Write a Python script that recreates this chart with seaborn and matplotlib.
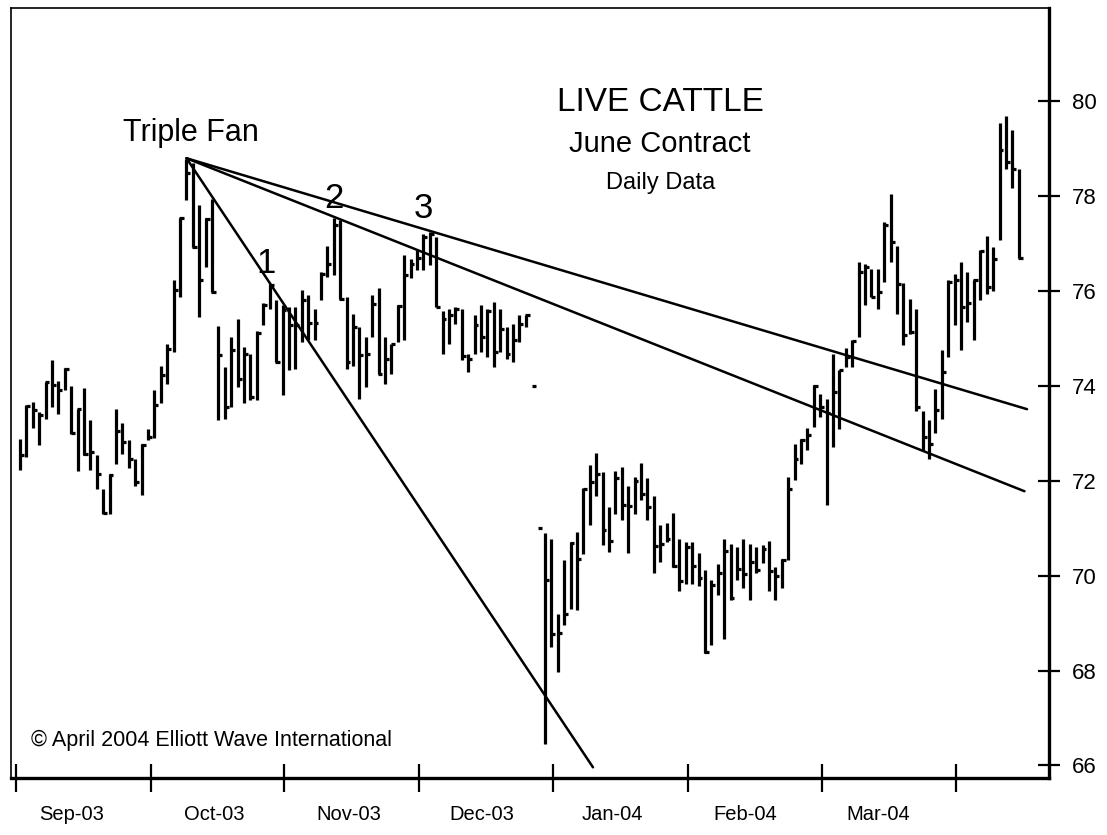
import numpy as np
import pandas as pd
import matplotlib
matplotlib.use("Agg")
import matplotlib.pyplot as plt
import seaborn as sns

# Daily high / low / close of the June live cattle contract (Sep-03 .. Mar-04)
highs = [
    72.89, 73.59, 73.66, 73.45, 74.08, 74.55, 74.10, 74.38, 73.99, 73.52,
    73.96, 73.29, 72.54, 71.82, 72.14, 73.51, 73.22, 72.85, 72.47, 72.78,
    73.10, 73.92, 74.43, 74.88, 76.23, 77.55, 78.79, 78.69, 77.81, 77.53,
    77.95, 75.26, 74.40, 75.03, 75.42, 74.82, 74.68, 75.16, 75.74, 76.14,
    75.82, 75.70, 75.66, 75.66, 76.02, 75.91, 75.63, 76.40, 76.96, 77.53,
    77.49, 75.88, 75.52, 75.24, 75.03, 75.91, 76.07, 75.03, 74.89, 75.70,
    76.75, 76.68, 76.86, 77.20, 77.25, 77.14, 75.59, 75.63, 75.66, 75.63,
    74.68, 75.49, 75.70, 75.63, 75.77, 75.63, 75.24, 75.31, 75.49, 75.49,
    74.00, 71.00, 70.90, 70.78, 69.20, 70.32, 70.70, 70.92, 71.85, 72.34,
    72.59, 72.19, 71.45, 72.21, 72.29, 71.90, 72.08, 72.38, 72.05, 71.69,
    71.06, 71.10, 71.32, 70.78, 70.71, 70.71, 70.47, 70.11, 69.90, 70.25,
    70.78, 70.67, 70.60, 70.78, 70.67, 70.60, 70.64, 70.73, 70.18, 70.36,
    72.08, 72.78, 72.89, 73.12, 74.01, 73.84, 73.73, 74.68, 74.33, 74.79,
    74.96, 76.61, 76.58, 76.47, 76.47, 77.45, 78.04, 76.96, 76.16, 75.84,
    75.63, 73.48, 73.28, 73.94, 74.76, 76.23, 76.37, 76.61, 76.40, 76.24,
    76.86, 77.17, 76.93, 79.54, 79.69, 79.39, 78.58,
]
lows = [
    72.23, 72.50, 73.12, 72.75, 73.31, 73.56, 73.40, 73.92, 72.98, 72.21,
    72.54, 72.22, 71.83, 71.29, 71.29, 72.35, 72.56, 72.26, 71.90, 71.71,
    72.85, 72.90, 73.63, 74.05, 74.72, 75.88, 77.93, 76.93, 75.45, 76.51,
    75.98, 73.28, 73.31, 73.56, 73.98, 73.63, 73.70, 73.70, 75.28, 75.63,
    74.50, 73.80, 74.33, 74.36, 74.93, 74.96, 74.96, 75.82, 76.30, 76.33,
    75.84, 74.36, 74.43, 73.73, 73.98, 75.03, 74.26, 74.05, 74.26, 74.93,
    74.96, 76.28, 76.44, 76.44, 76.54, 75.66, 74.68, 74.89, 75.31, 74.54,
    74.29, 74.68, 74.72, 74.61, 74.40, 74.72, 74.57, 74.50, 74.92, 75.24,
    74.00, 71.00, 66.46, 68.50, 67.97, 68.95, 69.30, 69.27, 70.46, 71.06,
    71.69, 70.64, 70.50, 71.29, 71.18, 70.48, 71.29, 71.60, 71.18, 70.06,
    70.29, 70.71, 70.18, 69.68, 69.83, 69.83, 69.78, 68.37, 68.53, 69.59,
    68.67, 69.49, 69.90, 69.73, 69.48, 70.06, 70.27, 69.68, 69.48, 69.73,
    70.32, 72.01, 72.36, 72.64, 73.13, 73.34, 71.48, 72.71, 73.10, 74.40,
    74.40, 75.03, 75.70, 75.87, 75.63, 76.19, 76.61, 75.52, 74.86, 75.10,
    73.48, 72.64, 72.47, 73.00, 73.30, 74.61, 75.28, 74.76, 75.35, 74.96,
    75.82, 75.94, 76.01, 77.07, 78.58, 78.18, 76.70,
]
closes = [
    72.55, 73.57, 73.49, 73.38, 74.08, 74.03, 73.91, 74.36, 73.00, 73.51,
    72.57, 72.61, 72.15, 71.32, 72.12, 73.06, 72.82, 72.47, 71.97, 72.75,
    72.92, 73.59, 74.22, 74.77, 76.02, 77.55, 78.48, 76.93, 76.23, 77.51,
    75.98, 74.65, 73.56, 74.75, 74.15, 74.68, 73.77, 75.12, 75.70, 76.12,
    74.50, 75.60, 75.28, 75.28, 75.81, 75.33, 75.33, 76.35, 76.58, 77.39,
    75.84, 74.50, 75.24, 74.65, 74.67, 75.73, 74.26, 74.57, 74.89, 75.68,
    76.33, 76.58, 76.70, 77.15, 77.21, 75.66, 75.42, 75.49, 75.63, 74.64,
    74.57, 75.28, 75.03, 75.59, 74.72, 75.21, 74.68, 74.96, 75.31, 75.49,
    74.00, 71.00, 69.90, 68.78, 68.79, 69.19, 70.68, 70.36, 71.83, 71.97,
    72.15, 70.96, 70.74, 72.05, 71.48, 71.46, 71.99, 71.73, 71.45, 70.62,
    70.67, 70.78, 70.20, 69.89, 70.60, 70.21, 69.95, 68.39, 69.80, 70.06,
    70.53, 69.52, 70.15, 70.04, 70.29, 70.11, 70.57, 70.10, 70.00, 70.32,
    71.83, 72.45, 72.87, 72.96, 73.99, 73.56, 73.42, 73.87, 74.33, 74.61,
    74.95, 76.40, 76.50, 75.87, 75.98, 77.39, 77.03, 76.14, 75.07, 75.14,
    73.55, 72.92, 72.78, 73.50, 74.29, 76.19, 76.24, 75.66, 75.75, 76.24,
    76.84, 76.09, 76.68, 78.98, 78.72, 78.57, 76.70,
]

# Month boundaries on the trading-day axis, label anchors and labels
month_edges = [-0.6, 20.4, 41.3, 62.3, 83.3, 104.3, 125.3, 146.2]
month_label_pos = [8.0, 30.3, 51.3, 72.2, 92.6, 113.3, 134.0]
month_labels = ["Sep-03", "Oct-03", "Nov-03", "Dec-03", "Jan-04", "Feb-04", "Mar-04"]
price_ticks = [66, 68, 70, 72, 74, 76, 78, 80]

# Triple fan: common origin and the far end of each ray
fan_origin_x = 26.0
fan_origin_y = 78.8
fan_end_x = [89.5, 156.9, 157.3]
fan_end_y = [65.96, 71.78, 73.51]

sns.set_theme(style="white")
plt.rcParams["font.family"] = ["Liberation Sans", "DejaVu Sans"]
plt.rcParams["text.color"] = "black"

fig = plt.figure(figsize=(11.07, 8.35), dpi=100)
ax = fig.add_axes([0.010, 0.068, 0.938, 0.922])

bars = pd.DataFrame({
    "day": np.arange(len(highs)),
    "high": highs,
    "low": lows,
    "close": closes,
})

# HLC bars: high-low range plus a close tick on the right
ax.vlines(bars["day"], bars["low"], bars["high"], color="black", lw=2.3)
ax.hlines(bars["close"], bars["day"] - 0.1, bars["day"] + 0.6, color="black", lw=2.3)

# Fan rays drawn as separate line units
fan = pd.DataFrame({
    "ray": np.repeat([1, 2, 3], 2),
    "x": np.ravel([[fan_origin_x, ex] for ex in fan_end_x]),
    "y": np.ravel([[fan_origin_y, ey] for ey in fan_end_y]),
})
sns.lineplot(data=fan, x="x", y="y", units="ray", estimator=None,
             color="black", lw=1.8, ax=ax, legend=False, sort=False)

ax.set_xlim(-1.4, 160.8)
ax.set_ylim(65.73, 81.96)

# Price axis on the right
ax.yaxis.tick_right()
ax.set_yticks(price_ticks)
ax.set_yticklabels([str(t) for t in price_ticks])
ax.tick_params(axis="y", which="major", direction="inout", length=16, width=1.6,
               pad=8, labelsize=16, colors="black", right=True, left=False)

# Month boundary ticks with labels between them
ax.set_xticks(month_edges)
ax.set_xticklabels([""] * len(month_edges))
ax.set_xticks(month_label_pos, minor=True)
ax.set_xticklabels(month_labels, minor=True)
ax.tick_params(axis="x", which="major", direction="inout", length=20, width=1.6,
               bottom=True, colors="black")
ax.tick_params(axis="x", which="minor", length=0, pad=19, labelsize=14.5,
               colors="black")
ax.set_xlabel("")
ax.set_ylabel("")

for side in ["left", "top"]:
    ax.spines[side].set_linewidth(1.2)
for side in ["right", "bottom"]:
    ax.spines[side].set_linewidth(2.4)
for s in ax.spines.values():
    s.set_color("black")

ax.text(26.7, 79.33, "Triple Fan", ha="center", va="center", fontsize=22)
ax.text(38.5, 76.58, "1", ha="center", va="center", fontsize=25)
ax.text(49.0, 77.95, "2", ha="center", va="center", fontsize=25)
ax.text(63.0, 77.74, "3", ha="center", va="center", fontsize=25)

ax.text(100, 79.98, "LIVE CATTLE", ha="center", va="center", fontsize=24)
ax.text(100, 79.11, "June Contract", ha="center", va="center", fontsize=21)
ax.text(100, 78.27, "Daily Data", ha="center", va="center", fontsize=17)

ax.text(1.7, 66.53, "\u00a9 April 2004 Elliott Wave International",
        ha="left", va="center", fontsize=15.5)

fig.savefig("out.png", dpi=100)
